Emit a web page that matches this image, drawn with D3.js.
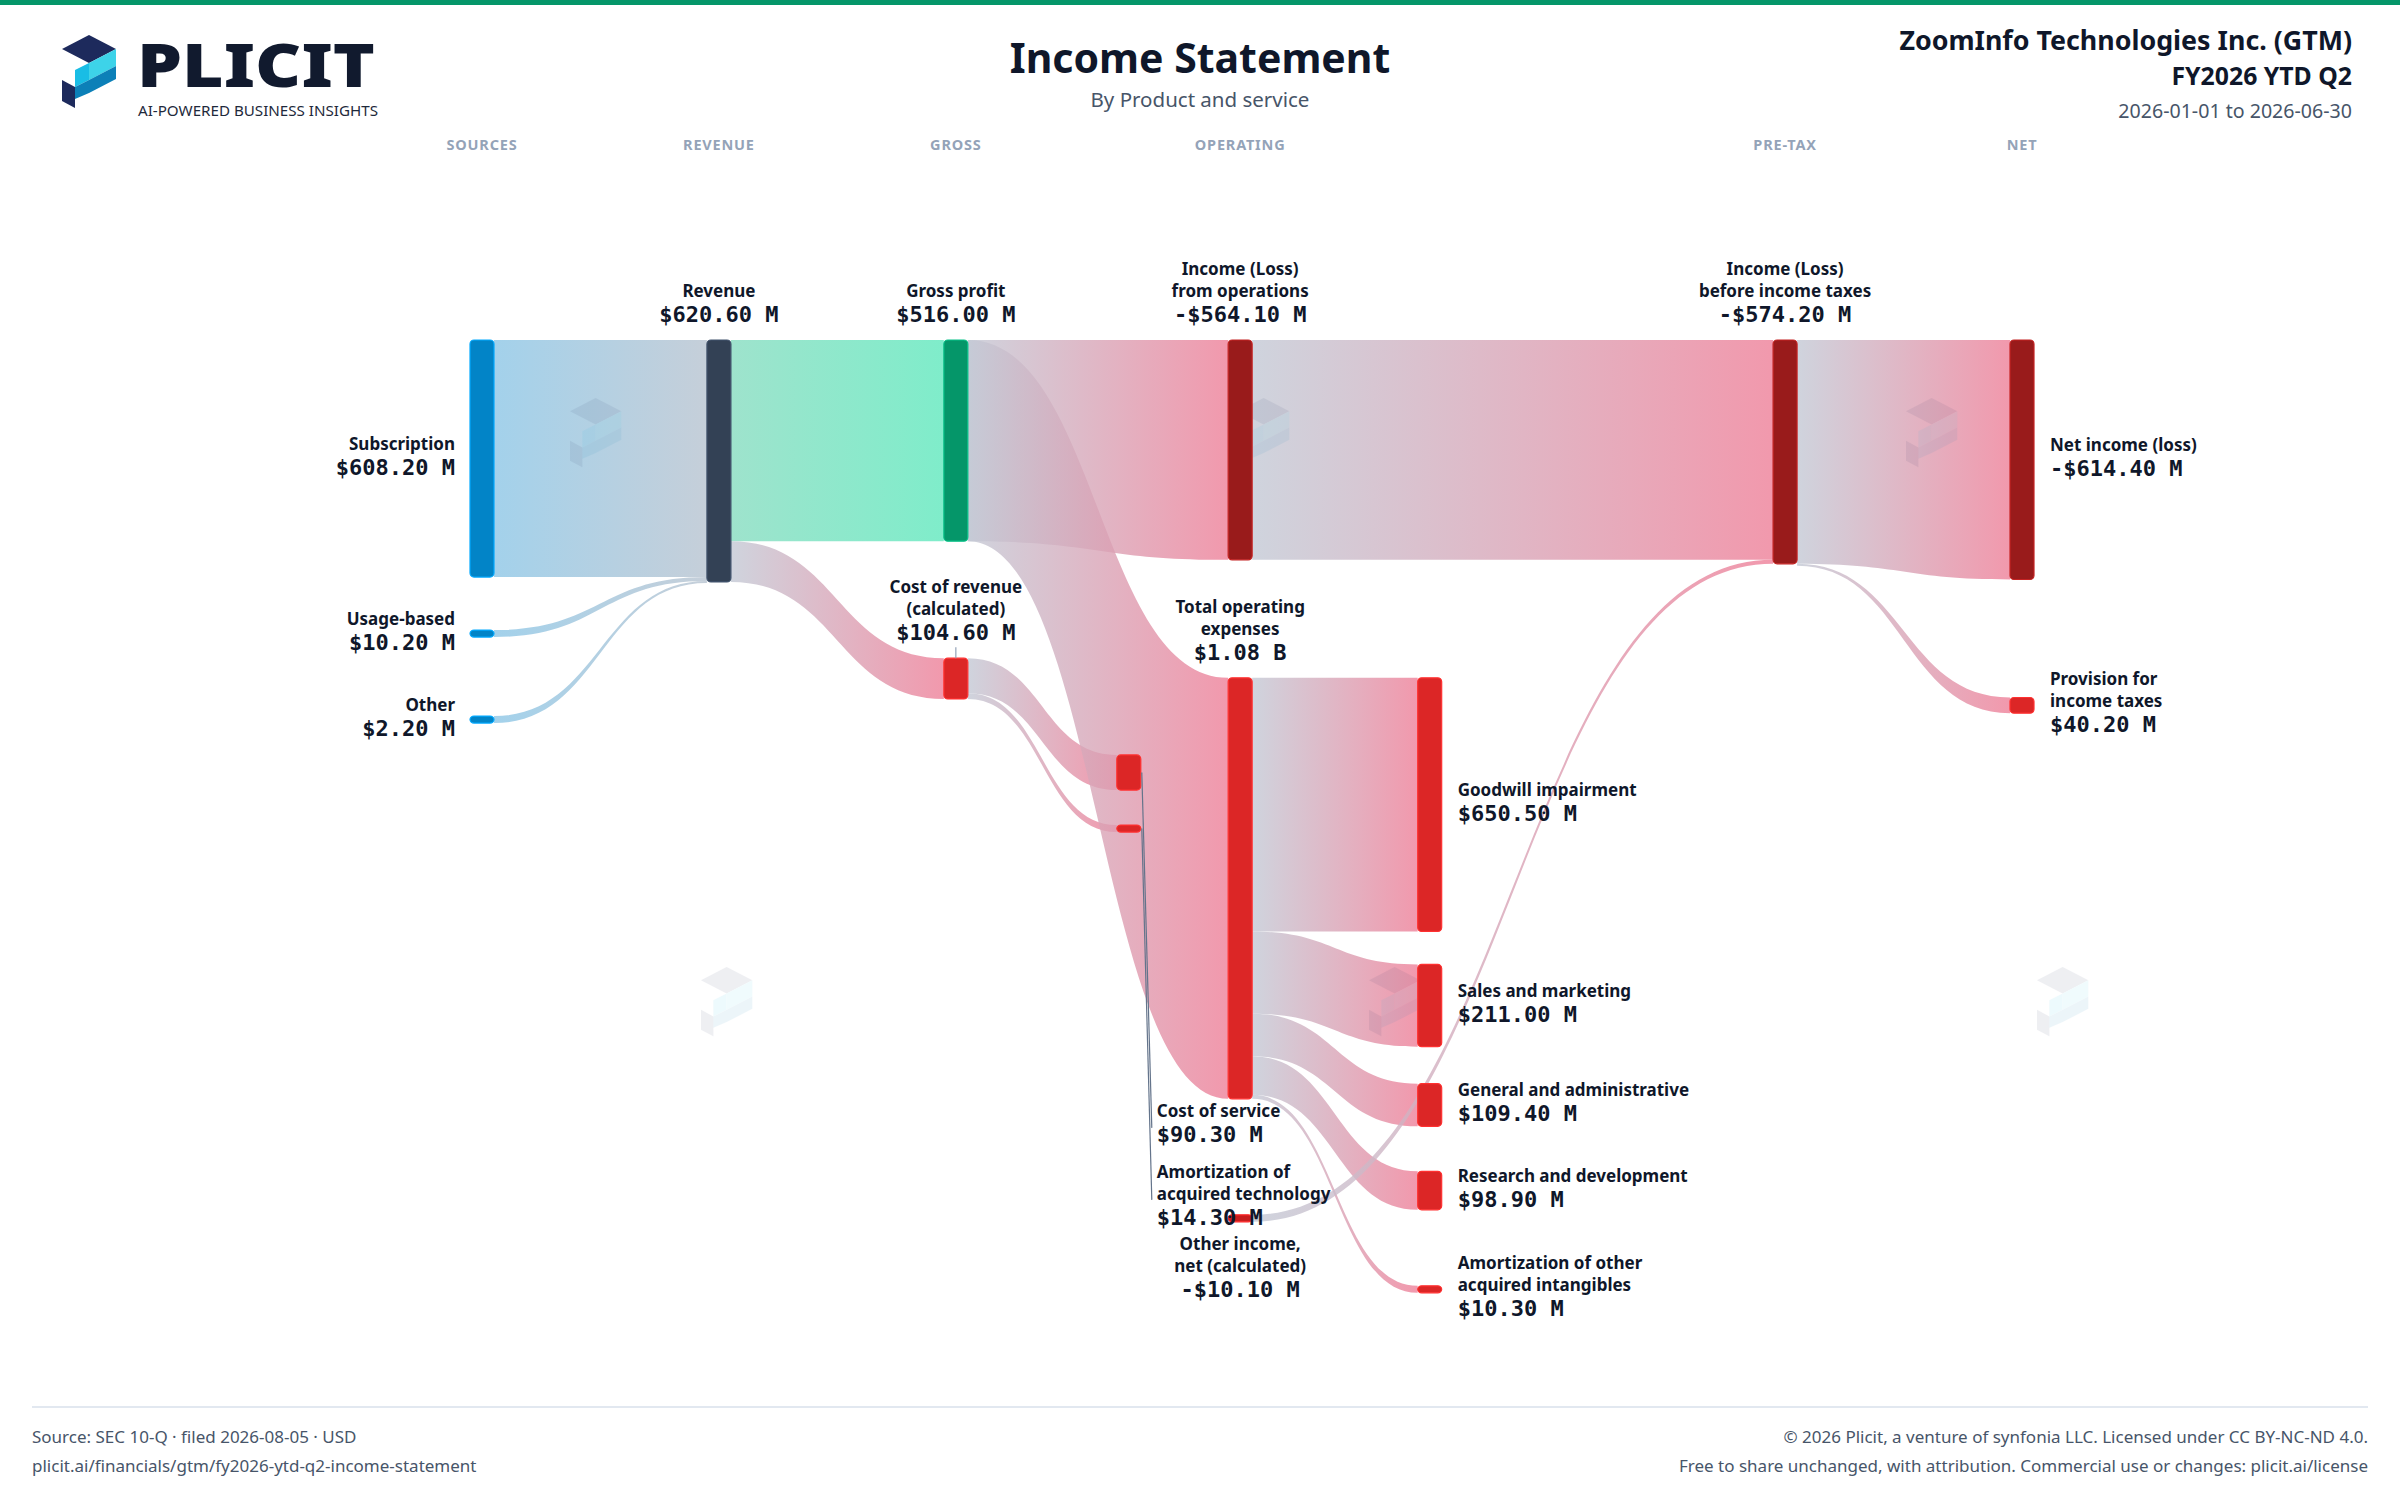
<!DOCTYPE html>
<html>
<head>
<meta charset="utf-8">
<script src="https://cdn.jsdelivr.net/npm/d3@7"></script>
<style>
  html, body { margin: 0; padding: 0; background: #fff; }
  svg { display: block; }
  text { font-family: "Noto Sans", "Open Sans", sans-serif; }
  .num { font-family: "DejaVu Sans Mono", monospace; font-weight: 700; }
</style>
</head>
<body>
<svg id="chart"></svg>
<script>
const width = 2400;
const height = 1499;

// ---------- data (USD millions) ----------
const nodeIds = ["sub", "usage", "other", "rev", "gp", "cor", "cos", "amt", "opinc", "opex", "oth",
  "gw", "sm", "ga", "rd", "amo", "pretax", "net", "tax"];
const nodeLabels = [
  ["Subscription"], ["Usage-based"], ["Other"], ["Revenue"], ["Gross profit"],
  ["Cost of revenue", "(calculated)"], ["Cost of service"], ["Amortization of", "acquired technology"],
  ["Income (Loss)", "from operations"], ["Total operating", "expenses"], ["Other income,", "net (calculated)"],
  ["Goodwill impairment"], ["Sales and marketing"], ["General and administrative"],
  ["Research and development"], ["Amortization of other", "acquired intangibles"],
  ["Income (Loss)", "before income taxes"], ["Net income (loss)"], ["Provision for", "income taxes"]
];
const nodeValues = [608.2, 10.2, 2.2, 620.6, 516.0, 104.6, 90.3, 14.3, -564.1, 1080.1, -10.1,
  650.5, 211.0, 109.4, 98.9, 10.3, -574.2, -614.4, 40.2];
const nodeKinds = ["source", "source", "source", "revenue", "profit", "cost", "cost", "cost", "loss", "cost", "other",
  "cost", "cost", "cost", "cost", "cost", "loss", "loss", "cost"];

// links: value at the source end and at the target end
const linkSources = ["sub", "usage", "other", "rev", "rev", "cor", "cor", "gp", "gp",
  "opex", "opex", "opex", "opex", "opex", "opinc", "oth", "pretax", "pretax"];
const linkTargets = ["rev", "rev", "rev", "gp", "cor", "cos", "amt", "opinc", "opex",
  "gw", "sm", "ga", "rd", "amo", "pretax", "pretax", "net", "tax"];
const linkSourceValues = [608.2, 10.2, 2.2, 516.0, 104.6, 90.3, 14.3, 516.0, 516.0,
  650.5, 211.0, 109.4, 98.9, 10.3, 564.1, 10.1, 574.2, 0];
const linkTargetValues = [608.2, 10.2, 2.2, 516.0, 104.6, 90.3, 14.3, 564.1, 1080.1,
  650.5, 211.0, 109.4, 98.9, 10.3, 564.1, 10.1, 614.4, 40.2];

const columnNames = ["SOURCES", "REVENUE", "GROSS", "OPERATING", "PRE-TAX", "NET"];

// ---------- layout ----------
const stageOf = { sub: 0, usage: 0, other: 0, rev: 1, gp: 2, cor: 2, cos: 2.73, amt: 2.73,
  opinc: 3.2, opex: 3.2, oth: 3.2, gw: 4, sm: 4, ga: 4, rd: 4, amo: 4, pretax: 5.5, net: 6.5, tax: 6.5 };
const columnStages = [0, 1, 2, 3.2, 5.5, 6.5];
// node stacked below another node with a gap (px)
const stackRule = { usage: ["sub", 53], other: ["usage", 79], cor: ["gp", 117], cos: ["cor", 56],
  amt: ["cos", 35], opex: ["opinc", 118], oth: ["opex", 116], sm: ["gw", 33], ga: ["sm", 37],
  rd: ["ga", 45], amo: ["rd", 76], tax: ["net", 118] };
const alignRule = { gw: "opex" };
const labelSide = { sub: "left", usage: "left", other: "left", rev: "top", gp: "top", cor: "top",
  opinc: "top", opex: "top", pretax: "top", cos: "leader", amt: "leader", oth: "below",
  gw: "right", sm: "right", ga: "right", rd: "right", amo: "right", net: "right", tax: "right" };

const nodeW = 24;
const chartTop = 340;
const minNode = 7;

const x = d3.scaleLinear().domain([0, 6.5]).range([470, 2010]);
const h = d3.scaleLinear().domain([0, d3.max(nodeValues, Math.abs)]).range([0, 421]);

const kindColor = { source: "#0284c7", revenue: "#334155", profit: "#059669", cost: "#dc2626",
  loss: "#991b1b", other: "#c81e1e" };

const nodes = {};
nodeIds.forEach((id, i) => {
  const n = { id, lines: nodeLabels[i], value: nodeValues[i], kind: nodeKinds[i] };
  n.x0 = x(stageOf[id]);
  n.x1 = n.x0 + nodeW;
  n.h = Math.max(h(Math.abs(n.value)), minNode);
  if (stackRule[id]) n.y0 = nodes[stackRule[id][0]].y1 + stackRule[id][1];
  else if (alignRule[id]) n.y0 = nodes[alignRule[id]].y0;
  else n.y0 = chartTop;
  n.y1 = n.y0 + n.h;
  n.cy = (n.y0 + n.y1) / 2;
  n.outCur = n.y0; n.inCur = n.y0; n.nOut = 0; n.nIn = 0;
  nodes[id] = n;
});

const links = linkSources.map((s, i) => ({
  source: nodes[s], target: nodes[linkTargets[i]], sv: linkSourceValues[i], tv: linkTargetValues[i]
}));
links.forEach(l => { l.source.nOut++; l.target.nIn++; });
links.forEach(l => {
  const s = l.source, t = l.target;
  const sp = h(l.sv), tp = h(l.tv);
  if (s.nOut === 1) { l.ys0 = s.y0; l.ys1 = s.y1; }
  else {
    if (s.outCur + sp > s.y1 + 0.5) s.outCur = s.y0;
    l.ys0 = s.outCur; l.ys1 = s.outCur + Math.max(sp, 2); s.outCur += sp;
  }
  if (t.nIn === 1) { l.yt0 = t.y0; l.yt1 = t.y1; }
  else {
    if (t.inCur + tp > t.y1 + 0.5) t.inCur = t.y0;
    l.yt0 = t.inCur; l.yt1 = t.inCur + Math.max(tp, 2); t.inCur += tp;
  }
});

function bandPath(l) {
  const x0 = l.source.x1, x1 = l.target.x0, xm = (x0 + x1) / 2;
  const p = d3.path();
  p.moveTo(x0, l.ys0);
  p.bezierCurveTo(xm, l.ys0, xm, l.yt0, x1, l.yt0);
  p.lineTo(x1, l.yt1);
  p.bezierCurveTo(xm, l.yt1, xm, l.ys1, x0, l.ys1);
  p.closePath();
  return p.toString();
}

function linkColors(l) {
  if (l.source.kind === "source") return ["#8cc6e6", "#b7c3d0"];
  if (l.target.kind === "profit") return ["#86dcc0", "#5fe8bd"];
  return ["#c3c9d5", "#ee7f98"];
}

const fmtMoney = v => {
  const a = Math.abs(v);
  const s = a >= 1000 ? `$${(a / 1000).toFixed(2)} B` : `$${a.toFixed(2)} M`;
  return (v < 0 ? "-" : "") + s;
};

// ---------- drawing ----------
const svg = d3.select("#chart").attr("width", width).attr("height", height)
  .attr("viewBox", `0 0 ${width} ${height}`);
const defs = svg.append("defs");

svg.append("rect").attr("width", width).attr("height", 5).attr("fill", "#059669");

// logo mark polygons (local coords)
const markFaces = [
  { c: "#1d2a5c", p: [[0, 14], [27, 0], [54, 14], [27, 28]] },
  { c: "#3dd3e9", p: [[27, 28], [54, 14], [54, 31], [27, 45]] },
  { c: "#19bde5", p: [[13, 35], [27, 28], [27, 45], [13, 52]] },
  { c: "#0c80b8", p: [[0, 58], [13, 52], [27, 45], [54, 31], [54, 44], [27, 58], [13, 64]] },
  { c: "#1d2a5c", p: [[0, 45], [13, 52], [13, 73], [0, 66]] }
];
function drawMark(g, tx, ty, sc, opacity) {
  const m = g.append("g").attr("transform", `translate(${tx},${ty}) scale(${sc})`)
    .attr("opacity", opacity);
  m.selectAll("polygon").data(markFaces).join("polygon")
    .attr("points", d => d.p.map(q => q.join(",")).join(" "))
    .attr("fill", d => d.c);
}

// header
const header = svg.append("g");
drawMark(header, 62, 35, 1, 1);
header.append("text").attr("x", 137).attr("y", 87)
  .attr("font-family", "Lato, 'Noto Sans', sans-serif")
  .attr("font-size", 60).attr("font-weight", 900)
  .attr("fill", "#111a2e").attr("textLength", 238).attr("lengthAdjust", "spacingAndGlyphs").text("PLICIT");
header.append("text").attr("x", 138).attr("y", 115.5)
  .attr("font-family", "Lato, 'Noto Sans', sans-serif")
  .attr("font-size", 14).attr("font-weight", 400)
  .attr("fill", "#1e293b").attr("textLength", 240).attr("lengthAdjust", "spacingAndGlyphs")
  .text("AI-POWERED BUSINESS INSIGHTS");

header.append("text").attr("x", width / 2).attr("y", 73).attr("text-anchor", "middle")
  .attr("font-size", 41).attr("font-weight", 700).attr("fill", "#0f172a").text("Income Statement");
header.append("text").attr("x", width / 2).attr("y", 107).attr("text-anchor", "middle")
  .attr("font-size", 20.5).attr("fill", "#475569").text("By Product and service");

header.append("text").attr("x", 2352).attr("y", 50).attr("text-anchor", "end")
  .attr("font-size", 26.8).attr("font-weight", 700).attr("fill", "#0f172a").text("ZoomInfo Technologies Inc. (GTM)");
header.append("text").attr("x", 2352).attr("y", 85).attr("text-anchor", "end")
  .attr("font-size", 24.8).attr("font-weight", 700).attr("fill", "#0f172a").text("FY2026 YTD Q2");
header.append("text").attr("x", 2352).attr("y", 118).attr("text-anchor", "end")
  .attr("font-size", 19.6).attr("fill", "#475569").text("2026-01-01 to 2026-06-30");

// column headers
svg.append("g").selectAll("text").data(columnNames).join("text")
  .attr("x", (d, i) => x(columnStages[i]) + nodeW / 2).attr("y", 150)
  .attr("text-anchor", "middle").attr("font-size", 14.5).attr("font-weight", 700)
  .attr("letter-spacing", 0.8).attr("fill", "#94a3b8").text(d => d);

// links
links.forEach((l, i) => {
  const [c0, c1] = linkColors(l);
  const gr = defs.append("linearGradient").attr("id", "lg" + i)
    .attr("gradientUnits", "userSpaceOnUse")
    .attr("x1", l.source.x1).attr("x2", l.target.x0).attr("y1", 0).attr("y2", 0);
  gr.append("stop").attr("offset", "0%").attr("stop-color", c0);
  gr.append("stop").attr("offset", "100%").attr("stop-color", c1);
});
svg.append("g").selectAll("path").data(links).join("path")
  .attr("d", bandPath)
  .attr("fill", (d, i) => `url(#lg${i})`)
  .attr("fill-opacity", 0.8);

// watermarks
const wm = svg.append("g");
[0, 1].forEach(r => [0, 1, 2].forEach(c => {
  drawMark(wm, 570 + 131 * r + 668 * c, 398 + 569 * r, 0.95, 0.07);
}));

// nodes
svg.append("g").selectAll("rect").data(Object.values(nodes)).join("rect")
  .attr("x", d => d.x0).attr("y", d => d.y0)
  .attr("width", nodeW).attr("height", d => d.h)
  .attr("rx", 4)
  .attr("fill", d => kindColor[d.kind])
  .attr("stroke", d => d3.color(kindColor[d.kind]).brighter(0.7))
  .attr("stroke-width", 1.2);

// labels
const lab = svg.append("g").attr("fill", "#0f172a");
const nameGap = 22, valueGap = 25;
function block(n, tx, anchor, firstBase) {
  n.lines.forEach((s, i) => {
    lab.append("text").attr("x", tx).attr("y", firstBase + i * nameGap)
      .attr("text-anchor", anchor).attr("font-size", 17).attr("font-weight", 700).text(s);
  });
  const vb = firstBase + (n.lines.length - 1) * nameGap + valueGap;
  lab.append("text").attr("class", "num").attr("x", tx).attr("y", vb)
    .attr("text-anchor", anchor).attr("font-size", 22).text(fmtMoney(n.value));
  return vb;
}

let leaderBase = null;
Object.values(nodes).forEach(n => {
  const side = labelSide[n.id];
  const k = n.lines.length;
  if (side === "left") block(n, n.x0 - 15, "end", n.cy - 8.5 - 11.5 * (k - 1));
  else if (side === "right") block(n, n.x1 + 16, "start", n.cy - 8.5 - 11.5 * (k - 1));
  else if (side === "top") {
    const vb = n.y0 - 18;
    const first = vb - valueGap - (k - 1) * nameGap;
    block(n, (n.x0 + n.x1) / 2, "middle", first);
    if (n.id === "cor") {
      lab.append("line").attr("x1", (n.x0 + n.x1) / 2).attr("x2", (n.x0 + n.x1) / 2)
        .attr("y1", n.y0 - 11).attr("y2", n.y0).attr("stroke", "#94a3b8").attr("stroke-width", 1.2);
    }
  } else if (side === "below") {
    block(n, (n.x0 + n.x1) / 2, "middle", n.y1 + 28);
  } else if (side === "leader") {
    const first = leaderBase === null ? nodes.opex.y1 + 18 : leaderBase + 36;
    const tx = n.x1 + 16;
    const vb = block(n, tx, "start", first);
    leaderBase = vb;
    const endY = ((first - 6) + (vb - 7)) / 2 + 5;
    lab.append("line").attr("x1", n.x1 + 1).attr("y1", n.cy).attr("x2", tx - 5).attr("y2", endY)
      .attr("stroke", "#64748b").attr("stroke-width", 1.2);
  }
});

// footer
const foot = svg.append("g").attr("font-size", 17).attr("fill", "#475569");
foot.append("line").attr("x1", 32).attr("x2", 2368).attr("y1", 1407).attr("y2", 1407)
  .attr("stroke", "#e2e8f0").attr("stroke-width", 2);
foot.append("text").attr("x", 32).attr("y", 1443).text("Source: SEC 10-Q · filed 2026-08-05 · USD");
foot.append("text").attr("x", 32).attr("y", 1472).text("plicit.ai/financials/gtm/fy2026-ytd-q2-income-statement");
foot.append("text").attr("x", 2368).attr("y", 1443).attr("text-anchor", "end")
  .text("© 2026 Plicit, a venture of synfonia LLC. Licensed under CC BY-NC-ND 4.0.");
foot.append("text").attr("x", 2368).attr("y", 1472).attr("text-anchor", "end")
  .text("Free to share unchanged, with attribution. Commercial use or changes: plicit.ai/license");
</script>
</body>
</html>
